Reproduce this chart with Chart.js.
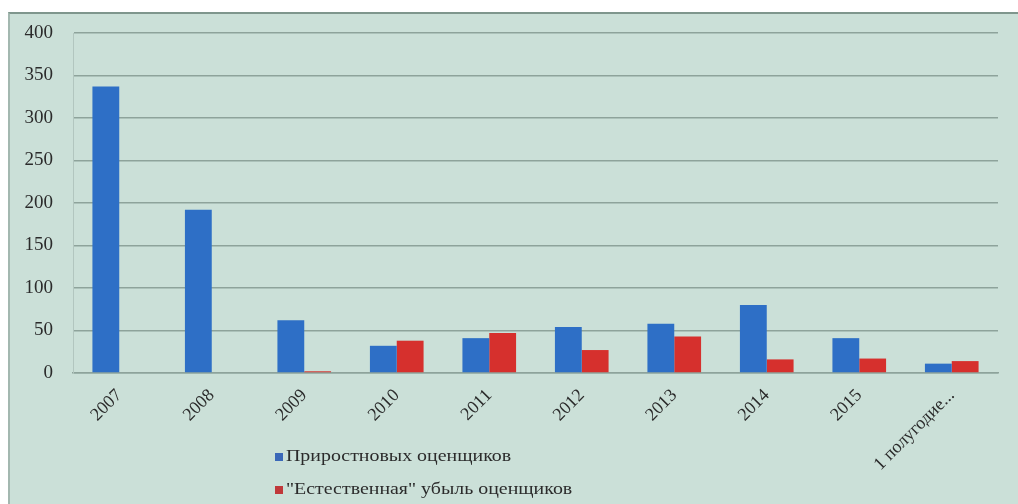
<!DOCTYPE html>
<html>
<head>
<meta charset="utf-8">
<script src="https://cdn.jsdelivr.net/npm/chart.js"></script>
<style>
  html, body { margin: 0; padding: 0; background: #fff; }
  #frame {
    position: absolute; left: 8px; top: 12px;
    width: 1008px; height: 490px;
    background: #cbe0d8;
    border-top: 2px solid #7f968d;
    border-left: 2px solid #a3b8b0;
  }
  #canvas { display: block; }
</style>
</head>
<body>
<div id="frame"><canvas id="canvas" width="1008" height="490"></canvas></div>
<script>
const categories = ['2007', '2008', '2009', '2010', '2011', '2012', '2013', '2014', '2015', '1 полугодие...'];
const growth = [337, 192, 62, 32, 41, 54, 58, 80, 41, 11];
const decline = [0, 0, 2, 38, 47, 27, 43, 16, 17, 14];
const yTicks = [0, 50, 100, 150, 200, 250, 300, 350, 400];

const serif = "'Liberation Serif', 'Times New Roman', serif";
const textColor = '#2b2b2b';
const gridColor = '#8ea39b';

let ctx = document.getElementById('canvas').getContext('2d');

// left-to-right shading on each bar
function barFill(dark, mid) {
  return function (c) {
    const el = c.element;
    if (!el || el.width === undefined || !el.width) return mid;
    const x0 = el.x - el.width / 2;
    const g = c.chart.ctx.createLinearGradient(x0, 0, x0 + el.width, 0);
    g.addColorStop(0, dark);
    g.addColorStop(0.45, mid);
    g.addColorStop(1, mid);
    return g;
  };
}

// two-line legend stacked under the axis labels, wide serif lettering
const stackedLegend = {
  id: 'stackedLegend',
  afterDraw(chart) {
    const c = chart.ctx;
    const rows = [443, 476];
    chart.data.datasets.forEach((ds, i) => {
      c.save();
      c.fillStyle = ds.legendColor;
      c.fillRect(265, rows[i] - 4, 8, 8);
      c.translate(276, rows[i]);
      c.scale(1.17, 1);
      c.font = '17px ' + serif;
      c.textBaseline = 'middle';
      c.fillStyle = textColor;
      c.fillText(ds.label, 0, 0);
      c.restore();
    });
  }
};

const data = {
  labels: categories,
  datasets: [{
    label: 'Приростновых оценщиков',
    data: growth,
    backgroundColor: barFill('#22539a', '#2e6fc6'),
    legendColor: '#3a68b8',
    barPercentage: 1,
    categoryPercentage: 0.58
  }, {
    label: '"Естественная" убыль оценщиков',
    data: decline,
    backgroundColor: barFill('#a8201f', '#d6302d'),
    legendColor: '#c0383a',
    barPercentage: 1,
    categoryPercentage: 0.58
  }]
};

const options = {
  responsive: false,
  animation: false,
  layout: { padding: { left: 0, right: 20, top: 19, bottom: 1 } },
  plugins: {
    legend: { display: false },
    tooltip: { enabled: false }
  },
  scales: {
    x: {
      grid: { display: false, drawTicks: false },
      border: { display: true, color: gridColor, width: 1.5 },
      ticks: {
        font: { family: serif, size: 18 },
        color: textColor,
        minRotation: 45,
        maxRotation: 45,
        padding: 12,
        autoSkip: false
      },
      afterFit(scale) {
        scale.height = 130;
        scale.paddingLeft = 0;
        scale.paddingRight = 0;
      }
    },
    y: {
      min: 0,
      max: 400,
      afterBuildTicks(scale) { scale.ticks = yTicks.map(v => ({ value: v })); },
      grid: { color: gridColor, lineWidth: 1.5, drawTicks: false },
      border: { display: true, color: '#b2c6bf', width: 1 },
      ticks: {
        font: { family: serif, size: 19 },
        color: textColor,
        padding: 20
      },
      afterFit(scale) {
        scale.width = 63;
        scale.paddingTop = 0;
        scale.paddingBottom = 0;
      }
    }
  }
};

new Chart(ctx, {
  type: 'bar',
  data: data,
  options: options,
  plugins: [stackedLegend]
});
</script>
</body>
</html>
